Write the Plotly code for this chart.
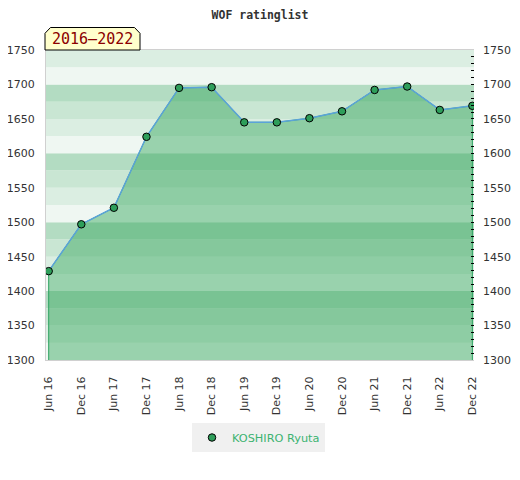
import plotly.graph_objects as go

# ---- data ----
periods = ["Jun 16", "Dec 16", "Jun 17", "Dec 17", "Jun 18", "Dec 18", "Jun 19",
           "Dec 19", "Jun 20", "Dec 20", "Jun 21", "Dec 21", "Jun 22", "Dec 22"]
ratings = [1429, 1497, 1521, 1624, 1695, 1696, 1645,
           1645, 1651, 1661, 1692, 1697, 1663, 1669]
player = "KOSHIRO Ryuta"
title_text = "WOF ratinglist"
range_label = "2016\u20132022"
y_min, y_max = 1300, 1750
y_ticks = [1300, 1350, 1400, 1450, 1500, 1550, 1600, 1650, 1700, 1750]

# ---- styles ----
BAND_COLORS = ["#eff7f2", "#dbeee2", "#c9e6d3", "#b3dcc2"]  # by (low mod 100)//25
FILL = "rgba(52,166,92,0.46)"
EDGE = "#2ca25f"
LINE = "#5ba3d9"
MARK = "#2e9e5a"
FONT = "DejaVu Sans"

# page body has an 8px margin; figure is sized to fit inside the 520x480 window
OFF = 8
FIG_W, FIG_H = 520 - OFF, 480 - OFF
PL, PR, PT, PB = 46, 474, 50, 360   # plot area in page pixels

idx = list(range(len(periods)))
base = y_min - 100

fig = go.Figure()

fig.add_trace(go.Scatter(
    x=[idx[0]] + idx + [idx[-1]],
    y=[base] + ratings + [base],
    mode="lines", fill="toself", fillcolor=FILL,
    line=dict(color=EDGE, width=1),
    hoverinfo="skip", showlegend=False))

fig.add_trace(go.Scatter(
    x=idx, y=ratings, mode="lines",
    line=dict(color=LINE, width=1.5),
    hoverinfo="skip", showlegend=False))

fig.add_trace(go.Scatter(
    x=idx, y=ratings, mode="markers", name=player,
    marker=dict(size=7.5, color=MARK, line=dict(color="black", width=1))))

fig.add_trace(go.Scatter(
    x=idx, y=ratings, mode="markers", yaxis="y2",
    marker=dict(opacity=0), hoverinfo="skip", showlegend=False))

shapes = []
lo = y_min
while lo < y_max:
    shapes.append(dict(type="rect", xref="paper", yref="y", x0=0, x1=1,
                       y0=lo, y1=lo + 25, layer="below", line=dict(width=0),
                       fillcolor=BAND_COLORS[(lo % 100) // 25]))
    lo += 25

W, H = float(PR - PL), float(PB - PT)
def px(x):
    return (x - PL) / W
def py(y):
    return (PB - y) / H
path = (f"M {px(45)} {py(50)} L {px(45)} {py(33.3)} L {px(50.5)} {py(27.5)} "
        f"L {px(134.5)} {py(27.5)} L {px(140)} {py(33.3)} L {px(140)} {py(50)} Z")
shapes.append(dict(type="path", xref="paper", yref="paper", path=path,
                   fillcolor="#ffffcc", line=dict(color="black", width=1), layer="above"))

fig.update_layout(
    width=FIG_W, height=FIG_H,
    margin=dict(l=PL - OFF, r=FIG_W - (PR - OFF), t=PT - OFF, b=FIG_H - (PB - OFF),
                autoexpand=False),
    paper_bgcolor="white", plot_bgcolor="white",
    shapes=shapes,
    font=dict(family=FONT, size=11, color="#333"),
    title=dict(text=title_text, x=0.5, xref="paper", xanchor="center",
               y=1 - (14.5 - OFF) / FIG_H, yref="container", yanchor="middle",
               font=dict(family="DejaVu Sans Mono", size=11.5, color="#333", weight="bold")),
    annotations=[dict(text=range_label, xref="paper", yref="paper",
                      x=px(92.5), y=py(39.5), xanchor="center", yanchor="middle",
                      showarrow=False,
                      font=dict(family="DejaVu Sans Mono", size=15, color="#8b0000"))],
    xaxis=dict(tickmode="array", tickvals=idx, ticktext=periods, tickangle=-90,
               range=[-0.083, len(periods) - 1 + 0.05], automargin=False,
               showgrid=False, zeroline=False,
               showline=True, linecolor="#d0d0d0", linewidth=1, mirror=True,
               ticks="", ticklabelstandoff=11,
               tickfont=dict(family=FONT, size=11, color="#333")),
    yaxis=dict(range=[y_min, y_max], tickvals=y_ticks, showgrid=False, zeroline=False,
               showline=True, linecolor="#d0d0d0", linewidth=1, automargin=False,
               ticks="", ticklabelstandoff=8,
               tickfont=dict(family=FONT, size=11, color="#333")),
    yaxis2=dict(range=[y_min, y_max], tickvals=y_ticks, overlaying="y", side="right",
                showgrid=False, zeroline=False, showline=False, automargin=False,
                ticks="inside", ticklen=3, tickcolor="black", tickwidth=1,
                minor=dict(dtick=10, ticks="inside", ticklen=3, tickcolor="black", tickwidth=1),
                ticklabelstandoff=8,
                tickfont=dict(family=FONT, size=11, color="#333")),
    legend=dict(orientation="h", x=px(192), xanchor="left", y=py(423), yanchor="top",
                bgcolor="#f0f0f0", font=dict(family=FONT, size=11.3, color="#3cb371")),
    showlegend=True,
)

fig.write_html("out.html")
